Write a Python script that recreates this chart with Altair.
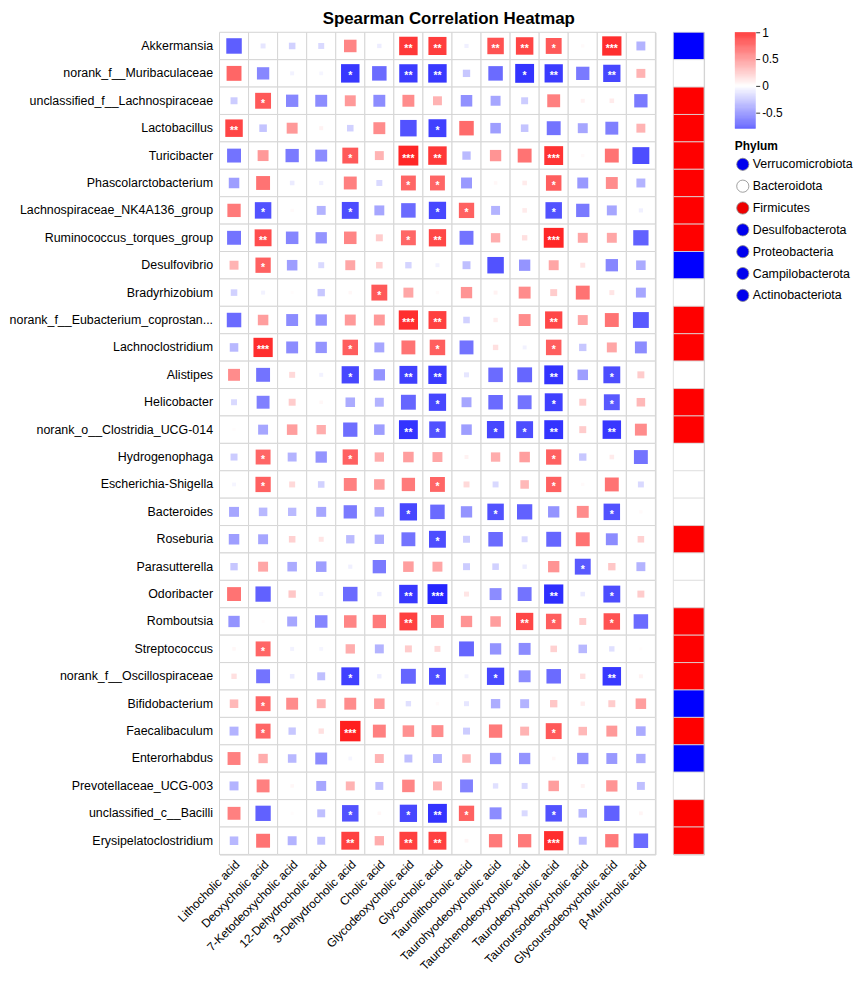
import altair as alt
import pandas as pd
import numpy as np

TITLE = "Spearman Correlation Heatmap"
FONT = "Liberation Sans"

bile_acids = [
    "Lithocholic acid", "Deoxycholic acid", "7-Ketodeoxycholic acid",
    "12-Dehydrocholic acid", "3-Dehydrocholic acid", "Cholic acid",
    "Glycodeoxycholic acid", "Glycocholic acid", "Taurolithocholic acid",
    "Taurohyodeoxycholic acid", "Taurochenodeoxycholic acid",
    "Taurodeoxycholic acid", "Tauroursodeoxycholic acid",
    "Glycoursodeoxycholic acid", "β-Muricholic acid",
]

genera = [
    "Akkermansia", "norank_f__Muribaculaceae", "unclassified_f__Lachnospiraceae",
    "Lactobacillus", "Turicibacter", "Phascolarctobacterium",
    "Lachnospiraceae_NK4A136_group", "Ruminococcus_torques_group", "Desulfovibrio",
    "Bradyrhizobium", "norank_f__Eubacterium_coprostan...", "Lachnoclostridium",
    "Alistipes", "Helicobacter", "norank_o__Clostridia_UCG-014",
    "Hydrogenophaga", "Escherichia-Shigella", "Bacteroides", "Roseburia",
    "Parasutterella", "Odoribacter", "Romboutsia", "Streptococcus",
    "norank_f__Oscillospiraceae", "Bifidobacterium", "Faecalibaculum",
    "Enterorhabdus", "Prevotellaceae_UCG-003", "unclassified_c__Bacilli",
    "Erysipelatoclostridium",
]

genus_phylum = [
    "Verrucomicrobiota", "Bacteroidota", "Firmicutes", "Firmicutes", "Firmicutes",
    "Firmicutes", "Firmicutes", "Firmicutes", "Desulfobacterota", "Proteobacteria",
    "Firmicutes", "Firmicutes", "Bacteroidota", "Campilobacterota", "Firmicutes",
    "Proteobacteria", "Proteobacteria", "Bacteroidota", "Firmicutes",
    "Proteobacteria", "Bacteroidota", "Firmicutes", "Firmicutes", "Firmicutes",
    "Actinobacteriota", "Firmicutes", "Actinobacteriota", "Bacteroidota",
    "Firmicutes", "Firmicutes",
]

# phylum strip colours as drawn in the annotation column
strip_phyla = ["Verrucomicrobiota", "Bacteroidota", "Firmicutes", "Desulfobacterota",
               "Proteobacteria", "Campilobacterota", "Actinobacteriota"]
strip_colors = ["#0000ff", "#ffffff", "#ff0000", "#0000ff", "#ffffff", "#ff0000", "#0000ff"]

# phylum legend as drawn
legend_phyla = ["Verrucomicrobiota", "Bacteroidota", "Firmicutes", "Desulfobacterota",
                "Proteobacteria", "Campilobacterota", "Actinobacteriota"]
legend_colors = ["#0000ee", "#ffffff", "#ee0000", "#0000ee", "#0000ee", "#0000ee", "#0000ee"]

# Spearman r per genus (columns in bile_acids order)
R01 = [-0.63, -0.10, -0.18, -0.15, 0.48, -0.07, 0.78, 0.76, -0.06, 0.68, 0.73, 0.65, 0.02, 0.82, -0.30]
R02 = [0.60, -0.47, -0.05, -0.04, -0.78, -0.58, -0.77, -0.78, -0.22, -0.58, -0.80, -0.77, -0.52, -0.72, 0.30]
R03 = [-0.20, 0.65, -0.47, -0.45, 0.40, -0.45, 0.45, 0.30, -0.43, -0.35, -0.20, 0.50, 0.05, 0.08, -0.52]
R04 = [0.73, -0.23, 0.40, 0.05, -0.18, 0.45, -0.68, -0.75, 0.58, -0.38, -0.23, -0.55, -0.35, -0.50, 0.30]
R05 = [-0.55, 0.40, -0.52, -0.45, 0.65, 0.30, 0.85, 0.78, -0.27, 0.42, 0.55, 0.80, 0.02, 0.55, -0.70]
R06 = [-0.38, 0.55, -0.08, -0.06, 0.50, -0.15, 0.60, 0.60, -0.40, 0.03, 0.08, 0.63, -0.40, 0.45, -0.30]
R07 = [0.52, -0.68, 0.02, -0.30, -0.70, -0.35, -0.58, -0.72, 0.62, -0.30, 0.08, -0.68, -0.52, -0.35, -0.06]
R08 = [-0.55, 0.70, -0.48, -0.42, 0.48, 0.20, 0.60, 0.72, -0.55, 0.32, 0.12, 0.85, 0.35, 0.35, -0.62]
R09 = [0.30, 0.62, -0.38, -0.15, 0.35, 0.18, -0.17, -0.05, -0.25, -0.68, -0.42, 0.35, 0.10, -0.47, -0.33]
R10 = [-0.18, -0.05, 0.01, -0.22, 0.03, 0.65, 0.35, 0.02, 0.42, 0.05, 0.45, 0.20, 0.55, 0.10, -0.35]
R11 = [-0.58, 0.38, -0.45, -0.42, 0.40, 0.40, 0.82, 0.75, -0.18, 0.07, 0.45, 0.72, 0.35, 0.55, -0.65]
R12 = [-0.28, 0.82, -0.45, -0.42, 0.63, -0.35, 0.55, 0.63, -0.55, 0.12, -0.05, 0.63, -0.22, 0.35, -0.45]
R13 = [0.45, -0.55, 0.15, -0.05, -0.72, -0.42, -0.75, -0.77, -0.10, -0.58, -0.60, -0.80, -0.38, -0.70, 0.20]
R14 = [-0.15, -0.50, 0.20, 0.03, -0.33, -0.30, -0.60, -0.72, -0.35, -0.58, -0.55, -0.75, 0.20, -0.65, 0.28]
R15 = [0.01, -0.35, 0.38, 0.32, -0.57, -0.38, -0.80, -0.68, -0.38, -0.72, -0.70, -0.80, 0.20, -0.78, 0.45]
R16 = [-0.20, 0.60, -0.30, -0.42, 0.62, 0.32, 0.38, 0.35, 0.05, 0.32, 0.38, 0.62, -0.22, 0.08, -0.55]
R17 = [-0.04, 0.62, 0.15, -0.18, 0.50, 0.38, 0.52, 0.60, 0.15, -0.15, 0.28, 0.62, 0.02, 0.55, -0.15]
R18 = [-0.35, -0.28, -0.27, -0.35, -0.52, -0.33, -0.72, -0.58, -0.42, -0.68, -0.62, -0.42, 0.45, -0.68, 0.02]
R19 = [-0.38, -0.35, 0.18, 0.10, -0.27, -0.32, -0.55, -0.70, -0.20, -0.58, -0.15, -0.60, 0.55, -0.45, 0.18]
R20 = [-0.22, 0.35, -0.33, -0.38, -0.06, -0.52, 0.38, 0.35, -0.20, -0.18, -0.07, 0.42, -0.65, 0.22, -0.30]
R21 = [0.55, -0.62, 0.22, -0.05, -0.58, -0.07, -0.78, -0.85, 0.10, -0.45, -0.55, -0.82, -0.08, -0.70, 0.20]
R22 = [-0.42, 0.01, -0.35, -0.48, 0.48, 0.52, 0.75, 0.50, 0.42, 0.38, 0.72, 0.63, 0.20, 0.68, -0.58]
R23 = [0.03, 0.60, -0.05, -0.04, 0.32, -0.30, 0.20, 0.15, -0.60, -0.42, -0.45, 0.18, -0.28, -0.12, 0.01]
R24 = [0.12, -0.55, -0.08, -0.25, -0.75, -0.07, -0.60, -0.70, -0.05, -0.72, -0.45, -0.58, 0.12, -0.78, 0.05]
R25 = [0.28, 0.60, 0.45, 0.30, 0.45, 0.38, -0.12, 0.02, -0.10, -0.32, -0.30, 0.22, 0.07, 0.20, 0.38]
R26 = [-0.30, 0.60, -0.22, 0.12, 0.88, 0.50, 0.43, 0.45, -0.20, 0.52, 0.30, 0.65, 0.28, 0.40, -0.33]
R27 = [0.50, 0.32, -0.28, -0.45, -0.04, 0.30, -0.25, -0.30, 0.28, -0.42, -0.42, 0.03, -0.42, -0.40, -0.32]
R28 = [-0.30, 0.50, 0.03, -0.35, 0.30, -0.25, 0.48, 0.30, -0.50, -0.12, -0.15, 0.38, 0.05, 0.42, -0.25]
R29 = [0.50, -0.62, 0.01, -0.25, -0.68, 0.03, -0.72, -0.80, 0.62, -0.45, -0.15, -0.68, -0.28, -0.62, 0.04]
R30 = [-0.28, 0.55, -0.30, -0.25, 0.75, 0.32, 0.75, 0.75, 0.04, 0.52, 0.52, 0.82, -0.25, 0.52, -0.58]

# number of significance stars per genus
S01 = [0, 0, 0, 0, 0, 0, 2, 2, 0, 2, 2, 1, 0, 3, 0]
S02 = [0, 0, 0, 0, 1, 0, 2, 2, 0, 0, 1, 2, 0, 2, 0]
S03 = [0, 1, 0, 0, 0, 0, 0, 0, 0, 0, 0, 0, 0, 0, 0]
S04 = [2, 0, 0, 0, 0, 0, 0, 1, 0, 0, 0, 0, 0, 0, 0]
S05 = [0, 0, 0, 0, 1, 0, 3, 2, 0, 0, 0, 3, 0, 0, 0]
S06 = [0, 0, 0, 0, 0, 0, 1, 1, 0, 0, 0, 1, 0, 0, 0]
S07 = [0, 1, 0, 0, 1, 0, 0, 1, 1, 0, 0, 1, 0, 0, 0]
S08 = [0, 2, 0, 0, 0, 0, 1, 2, 0, 0, 0, 3, 0, 0, 0]
S09 = [0, 1, 0, 0, 0, 0, 0, 0, 0, 0, 0, 0, 0, 0, 0]
S10 = [0, 0, 0, 0, 0, 1, 0, 0, 0, 0, 0, 0, 0, 0, 0]
S11 = [0, 0, 0, 0, 0, 0, 3, 2, 0, 0, 0, 2, 0, 0, 0]
S12 = [0, 3, 0, 0, 1, 0, 0, 1, 0, 0, 0, 1, 0, 0, 0]
S13 = [0, 0, 0, 0, 1, 0, 2, 2, 0, 0, 0, 2, 0, 1, 0]
S14 = [0, 0, 0, 0, 0, 0, 0, 1, 0, 0, 0, 1, 0, 1, 0]
S15 = [0, 0, 0, 0, 0, 0, 2, 1, 0, 1, 1, 2, 0, 2, 0]
S16 = [0, 1, 0, 0, 1, 0, 0, 0, 0, 0, 0, 1, 0, 0, 0]
S17 = [0, 1, 0, 0, 0, 0, 0, 1, 0, 0, 0, 1, 0, 0, 0]
S18 = [0, 0, 0, 0, 0, 0, 1, 0, 0, 1, 0, 0, 0, 1, 0]
S19 = [0, 0, 0, 0, 0, 0, 0, 1, 0, 0, 0, 0, 0, 0, 0]
S20 = [0, 0, 0, 0, 0, 0, 0, 0, 0, 0, 0, 0, 1, 0, 0]
S21 = [0, 0, 0, 0, 0, 0, 2, 3, 0, 0, 0, 2, 0, 1, 0]
S22 = [0, 0, 0, 0, 0, 0, 2, 0, 0, 0, 2, 1, 0, 1, 0]
S23 = [0, 1, 0, 0, 0, 0, 0, 0, 0, 0, 0, 0, 0, 0, 0]
S24 = [0, 0, 0, 0, 1, 0, 0, 1, 0, 1, 0, 0, 0, 2, 0]
S25 = [0, 1, 0, 0, 0, 0, 0, 0, 0, 0, 0, 0, 0, 0, 0]
S26 = [0, 1, 0, 0, 3, 0, 0, 0, 0, 0, 0, 1, 0, 0, 0]
S27 = [0, 0, 0, 0, 0, 0, 0, 0, 0, 0, 0, 0, 0, 0, 0]
S28 = [0, 0, 0, 0, 0, 0, 0, 0, 0, 0, 0, 0, 0, 0, 0]
S29 = [0, 0, 0, 0, 1, 0, 1, 2, 1, 0, 0, 1, 0, 0, 0]
S30 = [0, 0, 0, 0, 2, 0, 2, 2, 0, 0, 0, 3, 0, 0, 0]

R_ROWS = [R01, R02, R03, R04, R05, R06, R07, R08, R09, R10, R11, R12, R13, R14, R15,
          R16, R17, R18, R19, R20, R21, R22, R23, R24, R25, R26, R27, R28, R29, R30]
S_ROWS = [S01, S02, S03, S04, S05, S06, S07, S08, S09, S10, S11, S12, S13, S14, S15,
          S16, S17, S18, S19, S20, S21, S22, S23, S24, S25, S26, S27, S28, S29, S30]

records = []
for i, g in enumerate(genera):
    for j, b in enumerate(bile_acids):
        records.append({"genus": g, "acid": b, "r": R_ROWS[i][j],
                        "stars": "*" * S_ROWS[i][j]})
df = pd.DataFrame(records)

W = 439
H = 828

color_scale = alt.Scale(domain=[-1, 0, 1], range=["#0000ff", "#ffffff", "#ff0000"],
                        interpolate="rgb")
xscale = alt.Scale(domain=bile_acids, paddingInner=0, paddingOuter=0)
yscale = alt.Scale(domain=genera, paddingInner=0, paddingOuter=0)

base = alt.Chart(df).encode(
    x=alt.X("acid:N", scale=xscale,
            axis=alt.Axis(title=None, labelAngle=-45, labelAlign="right",
                          labelBaseline="top", labelFontSize=12, labelPadding=4,
                          ticks=False, domain=False, labelLimit=300,
                          labelFont=FONT, labelColor="#000000")),
    y=alt.Y("genus:N", scale=yscale,
            axis=alt.Axis(title=None, labelFontSize=12.5, labelPadding=7,
                          ticks=False, domain=False, labelLimit=300,
                          labelFont=FONT, labelColor="#000000")),
)

grid = base.mark_rect(fill="#ffffff", stroke="#d6d6d6", strokeWidth=1)
squares = base.mark_square(opacity=1, strokeWidth=0).transform_calculate(
    side="3 + 20 * abs(datum.r)", area="datum.side * datum.side"
).encode(
    color=alt.Color("r:Q", scale=color_scale, legend=None),
    size=alt.Size("area:Q", scale=None, legend=None),
)
stars = base.mark_text(color="#ffffff", fontSize=10.5, fontWeight="bold",
                       baseline="middle", dy=3, font=FONT).encode(text="stars:N")

heat = alt.layer(grid, squares, stars).properties(width=W, height=H)

annot_df = pd.DataFrame({"genus": genera, "phylum": genus_phylum})
annot = alt.Chart(annot_df).mark_rect(stroke="#dddddd", strokeWidth=0.8).encode(
    y=alt.Y("genus:N", scale=yscale, axis=None),
    fill=alt.Fill("phylum:N", scale=alt.Scale(domain=strip_phyla, range=strip_colors),
                  legend=None),
).properties(width=31, height=H)

# colour bar
lo = np.round(np.arange(-0.8, 1.0, 0.01), 2)
grad_df = pd.DataFrame({"lo": lo, "hi": np.round(lo + 0.01, 2), "mid": np.round(lo + 0.005, 3)})
grad = alt.Chart(grad_df).mark_rect().encode(
    y=alt.Y("lo:Q", scale=alt.Scale(domain=[-0.8, 1], nice=False, zero=False),
            axis=alt.Axis(orient="right", values=[-0.5, 0, 0.5, 1], title=None,
                          domain=False, grid=False, tickSize=4, tickColor="#333333",
                          labelFontSize=12, labelFont=FONT, labelColor="#000000",
                          labelPadding=2,
                          labelExpr="datum.value == 1 ? '1' : datum.value == 0.5 ? '0.5' : datum.value == 0 ? '0' : '-0.5'")),
    y2="hi:Q",
    color=alt.Color("mid:Q", scale=color_scale, legend=None),
).properties(width=21, height=97, view=alt.ViewBackground(stroke="transparent"))

leg_df = pd.DataFrame({"phylum": legend_phyla})
leg_base = alt.Chart(leg_df).encode(
    y=alt.Y("phylum:N", scale=alt.Scale(domain=legend_phyla, type="point", padding=0.5),
            axis=None)
)
dots = leg_base.mark_point(filled=True, size=150, shape="circle", stroke="#888888",
                           strokeWidth=0.8, opacity=1).encode(
    x=alt.value(8),
    fill=alt.Fill("phylum:N", scale=alt.Scale(domain=legend_phyla, range=legend_colors),
                  legend=None),
)
labels = leg_base.mark_text(align="left", baseline="middle", fontSize=12.5,
                            font=FONT, color="#000000").encode(
    x=alt.value(18), text="phylum:N")
legend_chart = alt.layer(dots, labels).properties(
    width=105, height=154,
    title=alt.TitleParams("Phylum", anchor="start", fontSize=12, fontWeight="bold",
                          font=FONT, offset=0, dx=0),
    view=alt.ViewBackground(stroke="transparent"),
)

right = alt.vconcat(grad, legend_chart, spacing=10).resolve_scale(
    color="independent", fill="independent", y="independent")

left = alt.hconcat(heat, annot, spacing=16).resolve_scale(
    y="independent", fill="independent", color="independent")

chart = alt.hconcat(left, right, spacing=29).resolve_scale(
    y="independent", fill="independent", color="independent"
).properties(
    title=alt.TitleParams(TITLE, fontSize=17, fontWeight="bold", font=FONT,
                          anchor="middle", dx=18, offset=-2, color="#000000"),
    padding={"left": 0, "top": -2, "right": 0, "bottom": 0},
).configure_view(stroke="#c8c8c8")

chart.save("out.html", embed_options={"renderer": "svg", "actions": False})
